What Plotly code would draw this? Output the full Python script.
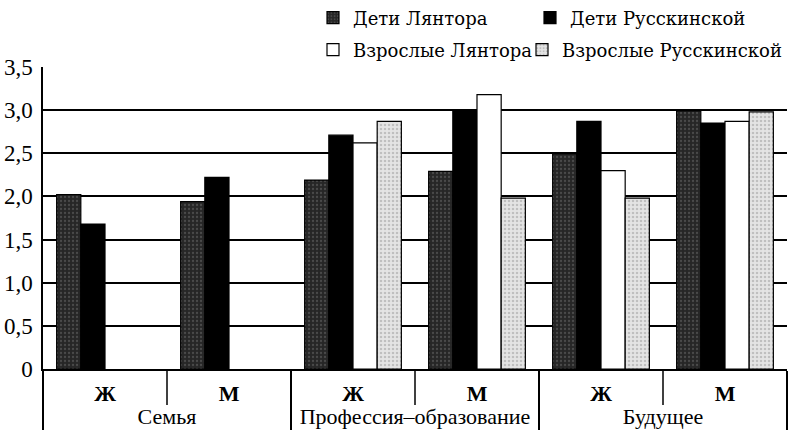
import plotly.graph_objects as go

groups = ["Семья", "Семья", "Профессия–образование", "Профессия–образование", "Будущее", "Будущее"]
sexes = ["Ж", "М", "Ж", "М", "Ж", "М"]

series_names = ["Дети Лянтора", "Дети Русскинской", "Взрослые Лянтора", "Взрослые Русскинской"]
deti_lyantor = [2.02, 1.94, 2.19, 2.29, 2.49, 2.99]
deti_russk = [1.68, 2.22, 2.71, 3.0, 2.87, 2.85]
vzr_lyantor = [None, None, 2.62, 3.18, 2.30, 2.87]
vzr_russk = [None, None, 2.87, 1.98, 1.98, 2.98]

y_tickvals = [0, 0.5, 1.0, 1.5, 2.0, 2.5, 3.0, 3.5]
y_ticktext = ["0", "0,5", "1,0", "1,5", "2,0", "2,5", "3,0", "3,5"]

FONT = "Liberation Serif"
LEG_FONT = "DejaVu Serif"
W, H = 789, 434
ML, MR, MT, MB = 43, 2, 67, 65
PW = W - ML - MR
PH = H - MT - MB

styles = [
    dict(color="#2c2c2c", pattern=dict(shape=".", fgcolor="#6e6e6e", bgcolor="#262626", size=4, solidity=0.25)),
    dict(color="#000000"),
    dict(color="#ffffff"),
    dict(color="#dcdcdc", pattern=dict(shape=".", fgcolor="#9a9a9a", bgcolor="#e4e4e4", size=4, solidity=0.3)),
]
values = [deti_lyantor, deti_russk, vzr_lyantor, vzr_russk]
legend_ids = ["legend", "legend2", "legend3", "legend4"]

sex_labels = ["<b>%s</b>" % s for s in sexes]

fig = go.Figure()
for name, vals, st, lid in zip(series_names, values, styles, legend_ids):
    marker = dict(color=st["color"], line=dict(color="#000000", width=1.2))
    if "pattern" in st:
        marker["pattern"] = st["pattern"]
    fig.add_trace(go.Bar(
        x=[groups, sex_labels], y=vals, name=name, marker=marker, legend=lid,
        hoverinfo="skip",
    ))

# legend anchor positions in container pixels (left edge of entry, vertical centre)
legend_pos = {
    "legend": (313, 18),
    "legend2": (530, 18),
    "legend3": (313, 50),
    "legend4": (522, 50),
}
layout_legends = {}
for lid, (px, py) in legend_pos.items():
    layout_legends[lid] = dict(
        xref="container", yref="container",
        x=px / W, y=1 - py / H, xanchor="left", yanchor="middle",
        orientation="h", bgcolor="rgba(0,0,0,0)",
        font=dict(family=LEG_FONT, size=18, color="#000000"),
        borderwidth=0,
    )

# Ж/М separators below the axis (between sub-categories within each group)
n = len(sexes)
shapes = []
for i in range(1, n):
    if groups[i] == groups[i - 1]:
        xp = i / n
        shapes.append(dict(type="line", xref="paper", yref="paper",
                           x0=xp, x1=xp, y0=0, y1=-(405 - (H - MB)) / PH,
                           line=dict(color="#000000", width=1.5)))

fig.update_layout(
    width=W, height=H,
    margin=dict(l=ML, r=MR, t=MT, b=MB, pad=0, autoexpand=False),
    paper_bgcolor="#ffffff", plot_bgcolor="#ffffff",
    barmode="group", bargap=0.22, bargroupgap=0,
    font=dict(family=FONT, color="#000000"),
    showlegend=True,
    shapes=shapes,
    **layout_legends,
)
fig.update_xaxes(
    type="multicategory",
    showline=True, linecolor="#000000", linewidth=1.5,
    ticks="", showgrid=False,
    showdividers=True, dividercolor="#000000", dividerwidth=1.5,
    tickfont=dict(family=FONT, size=22, color="#000000"),
    ticklabelstandoff=4,
)
fig.update_yaxes(
    range=[0, 3.5],
    tickvals=y_tickvals, ticktext=y_ticktext,
    showline=True, linecolor="#000000", linewidth=1.5,
    showgrid=True, gridcolor="#000000", gridwidth=1.5,
    zeroline=False, ticks="",
    tickfont=dict(family=FONT, size=23, color="#000000"),
    ticklabelstandoff=4,
)

fig.write_html("out.html", config={"displayModeBar": False},
               post_script="document.body.style.margin='0';")
